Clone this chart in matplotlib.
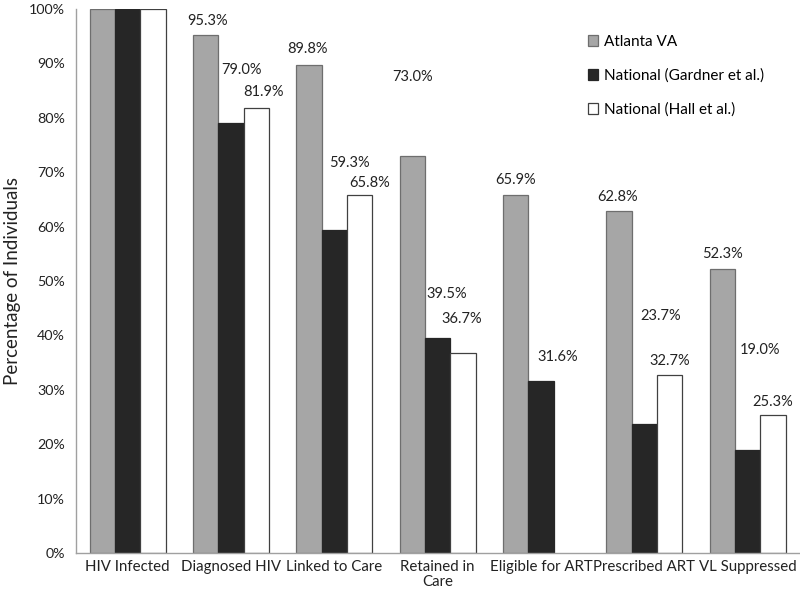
import numpy as np
import matplotlib.pyplot as plt

plt.rcParams['font.family'] = ['Lato', 'DejaVu Sans']

categories = ["HIV Infected", "Diagnosed HIV", "Linked to Care", "Retained in\nCare",
              "Eligible for ART", "Prescribed ART", "VL Suppressed"]
atlanta = [100, 95.3, 89.8, 73.0, 65.9, 62.8, 52.3]
gardner = [100, 79.0, 59.3, 39.5, 31.6, 23.7, 19.0]
hall = [100, 81.9, 65.8, 36.7, np.nan, 32.7, 25.3]

# label placement (moved by hand in the original): height in % and x shift in bar widths
atlanta_lab_y = [None, 97.8, 92.6, 87.5, 68.6, 65.4, 55.0]
atlanta_lab_dx = [0, 0.08, -0.04, 0, 0, -0.04, 0]
gardner_lab_y = [None, 88.8, 71.7, 47.6, 36.0, 43.6, 37.3]
gardner_lab_dx = [0, 0.42, 0.6, 0.36, 0.66, 0.66, 0.5]
hall_lab_y = [None, 84.7, 68.0, 43.0, None, 35.3, 27.8]
hall_lab_dx = [0, 0.28, 0.4, -0.04, 0, 0, 0]

x = np.arange(len(categories))
w = 0.245

fig = plt.figure(figsize=(8, 5.99), dpi=100)
ax = fig.add_axes([0.095, 0.0768, 0.904, 0.908])

series = [
    (atlanta, "Atlanta VA", '#a6a6a6', '#6e6e6e', -w, atlanta_lab_y, atlanta_lab_dx),
    (gardner, "National (Gardner et al.)", '#262626', '#262626', 0, gardner_lab_y, gardner_lab_dx),
    (hall, "National (Hall et al.)", '#ffffff', '#404040', w, hall_lab_y, hall_lab_dx),
]

for vals, name, fc, ec, off, lab_y, lab_dx in series:
    ax.bar(x + off, vals, w, color=fc, edgecolor=ec, linewidth=0.9, label=name)
    for i, v in enumerate(vals):
        if lab_y[i] is None or np.isnan(v):
            continue
        ax.text(x[i] + off + lab_dx[i] * w, lab_y[i], f"{v:.1f}%",
                ha='center', va='center', fontsize=10.5, color='#222222')

ax.set_xlim(-0.5, 6.5)
ax.set_ylim(0, 100)
ax.set_yticks(np.arange(0, 101, 10))
ax.set_yticklabels([f"{t}%" for t in range(0, 101, 10)], fontsize=10.3)
ax.set_xticks(x)
ax.set_xticklabels(categories, fontsize=10.8, linespacing=1.1)
ax.tick_params(axis='both', length=0, labelcolor='#222222')
ax.tick_params(axis='y', pad=8)
ax.tick_params(axis='x', pad=5)
for s in ['top', 'right']:
    ax.spines[s].set_visible(False)
for s in ['left', 'bottom']:
    ax.spines[s].set_color('#a0a0a0')
    ax.spines[s].set_linewidth(1)

ax.set_ylabel("Percentage of Individuals", fontsize=13.5, color='#222222', labelpad=6)

ax.legend(loc='upper left', bbox_to_anchor=(0.725, 0.955), bbox_transform=fig.transFigure,
          frameon=False, fontsize=11, handlelength=0.7, handleheight=0.7,
          handletextpad=0.35, labelspacing=1.3, borderpad=0)

fig.savefig("out.png", dpi=100)
